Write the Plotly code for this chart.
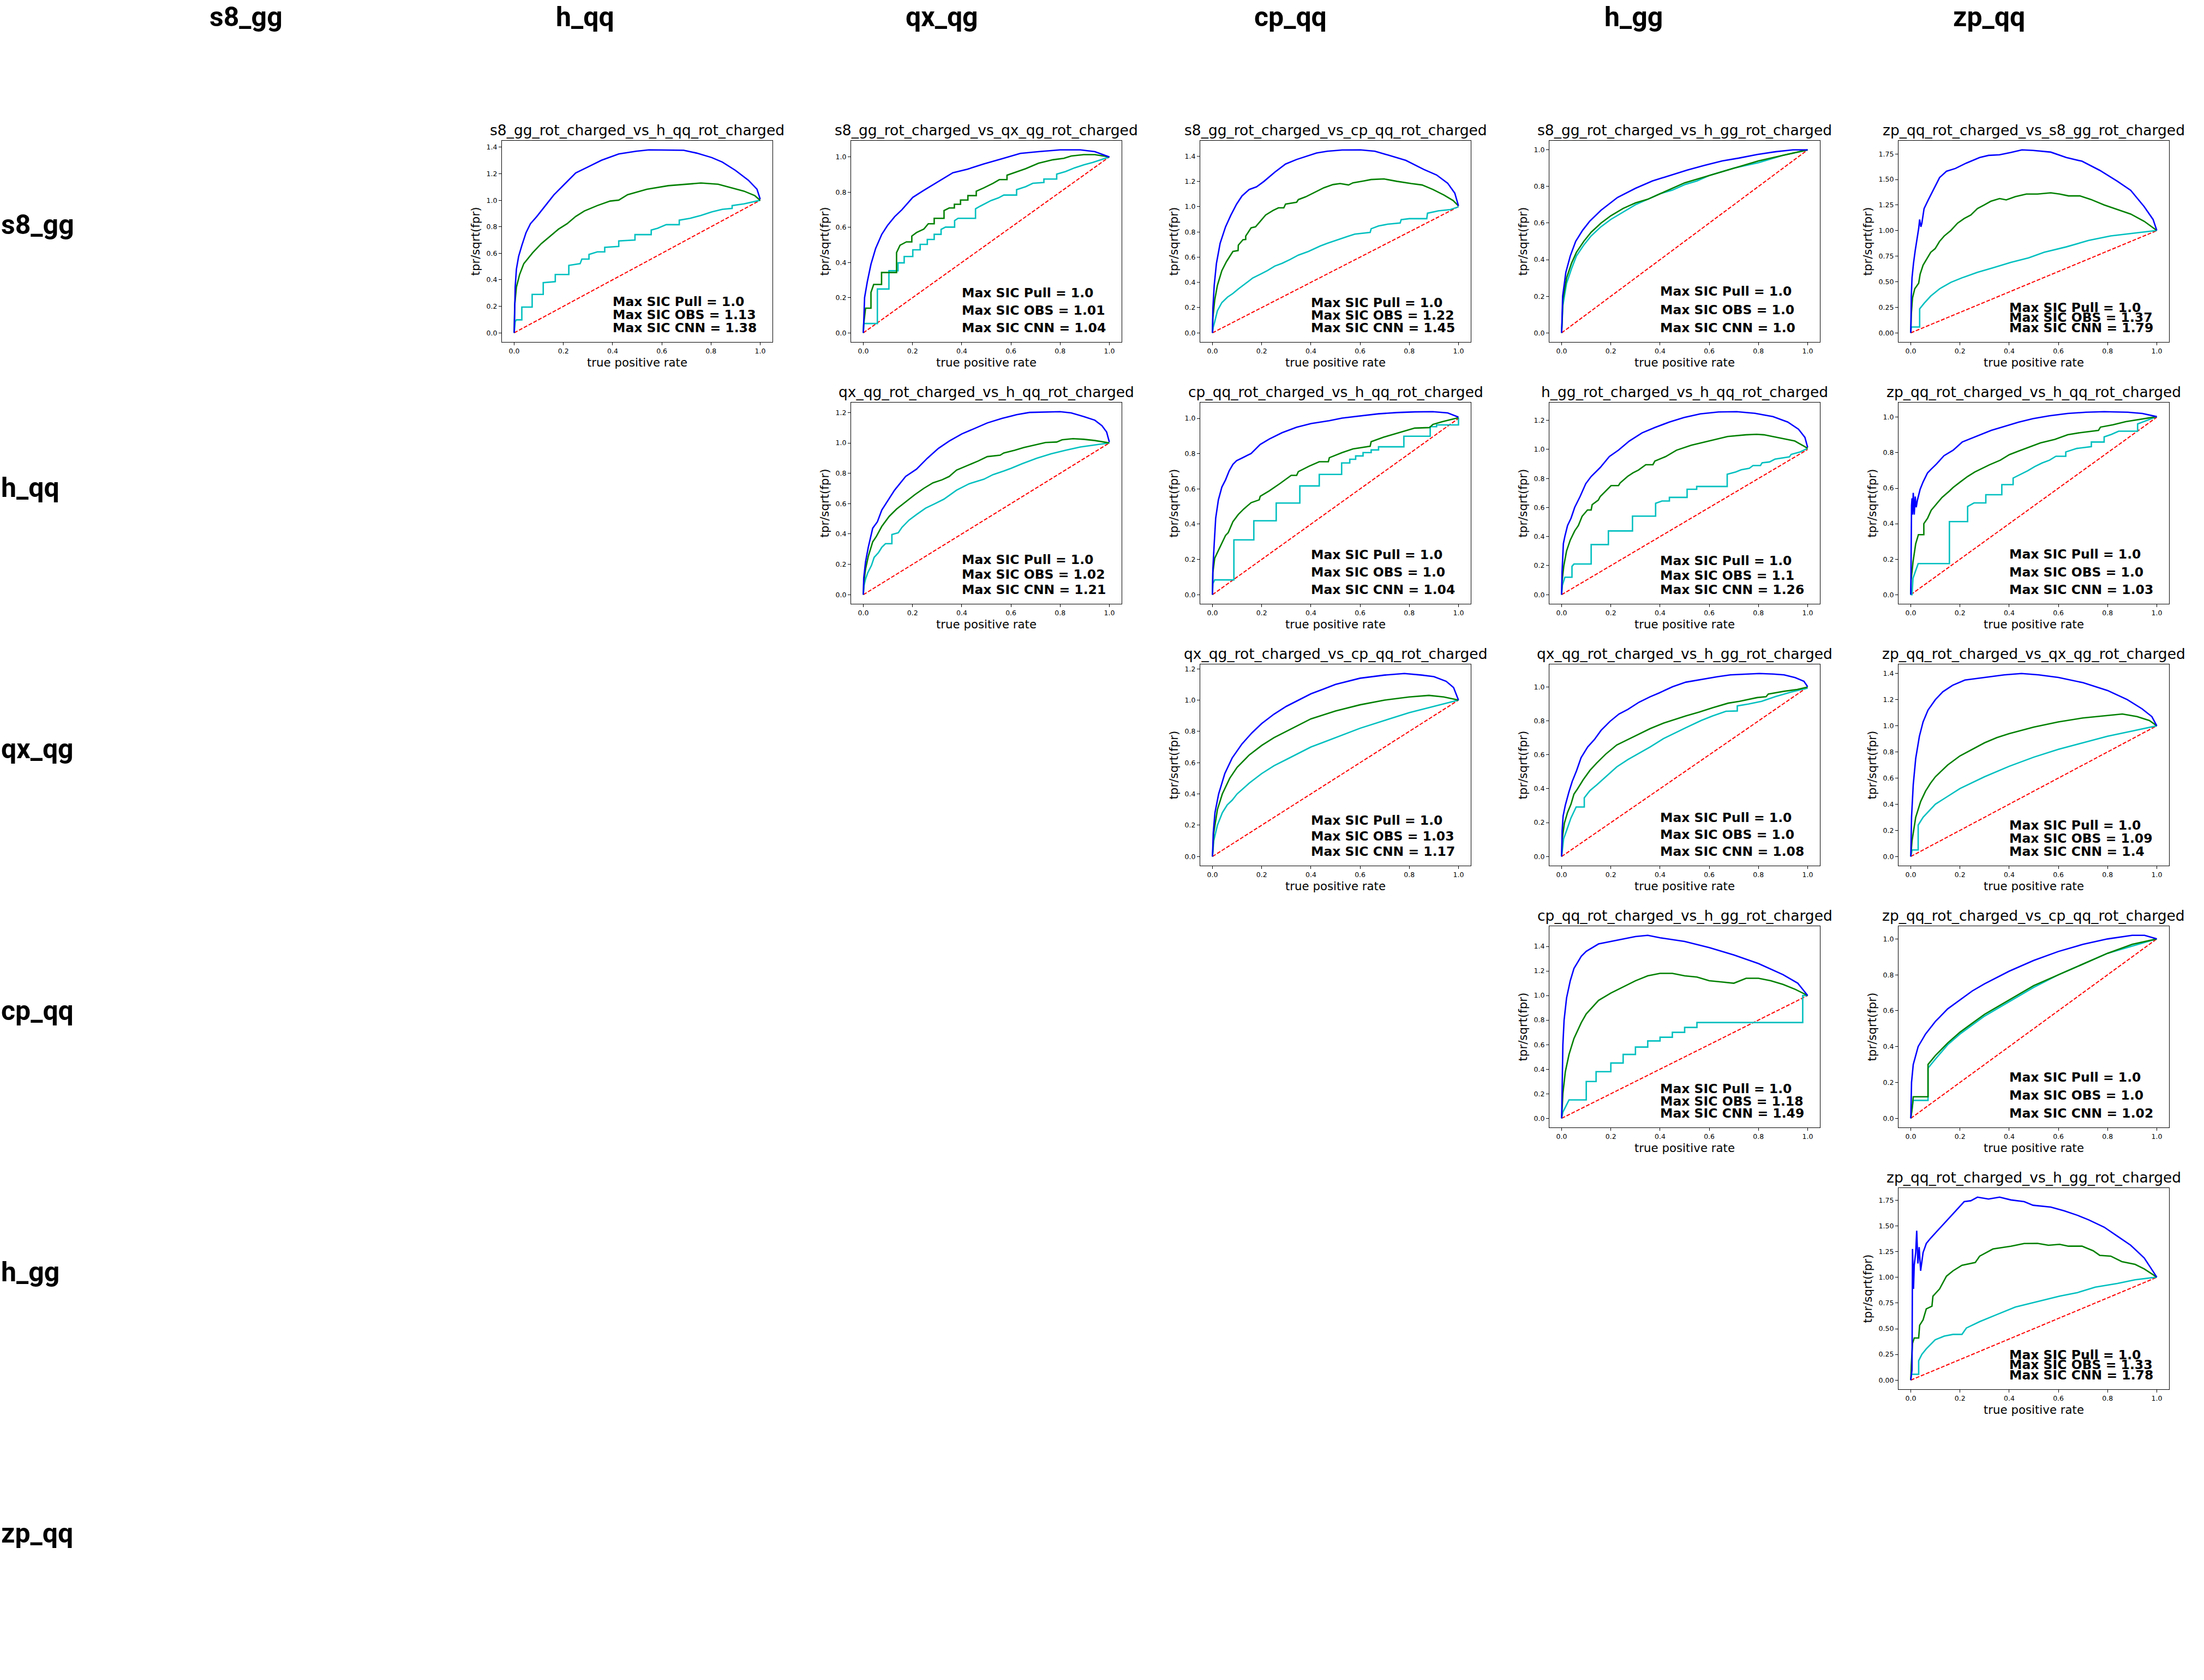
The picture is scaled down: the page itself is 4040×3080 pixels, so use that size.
import plotly.graph_objects as go

W, H = 4040, 3080

# ---------------- data ----------------
NAMES = ["s8_gg", "h_qq", "qx_qg", "cp_qq", "h_gg", "zp_qq"]
XTICKS = [0.0, 0.2, 0.4, 0.6, 0.8, 1.0]

# each curve: list of (true positive rate, tpr/sqrt(fpr)) points
S8_HQQ_CNN = [(0,0),(0.002,0.139),(0.004,0.345),(0.009,0.481),(0.018,0.577),(0.031,0.659),(0.048,0.755),(0.066,0.823),(0.092,0.878),(0.127,0.96),(0.162,1.042),(0.206,1.124),(0.25,1.206),(0.303,1.254),(0.355,1.302),(0.425,1.349),(0.496,1.37),(0.548,1.38),(0.627,1.377),(0.689,1.377),(0.741,1.356),(0.803,1.322),(0.846,1.288),(0.899,1.226),(0.952,1.151),(0.987,1.083),(1.0,1.008)]
S8_HQQ_OBS = [(0,0),(0.002,0.208),(0.009,0.345),(0.022,0.44),(0.039,0.522),(0.075,0.604),(0.11,0.673),(0.145,0.727),(0.18,0.782),(0.215,0.823),(0.25,0.878),(0.285,0.919),(0.338,0.96),(0.39,0.994),(0.425,1.001),(0.461,1.042),(0.539,1.083),(0.627,1.11),(0.715,1.124),(0.759,1.13),(0.829,1.121),(0.882,1.096),(0.934,1.069),(0.978,1.035),(1.0,1.0)]
S8_HQQ_PULL = [(0,0),(0.004,0.085),(0.009,0.098),(0.031,0.098),(0.031,0.194),(0.073,0.194),(0.073,0.29),(0.118,0.29),(0.118,0.379),(0.167,0.386),(0.167,0.44),(0.222,0.44),(0.222,0.509),(0.268,0.522),(0.275,0.556),(0.304,0.556),(0.304,0.591),(0.338,0.611),(0.368,0.611),(0.368,0.645),(0.425,0.652),(0.425,0.693),(0.491,0.7),(0.491,0.741),(0.557,0.741),(0.557,0.775),(0.583,0.789),(0.618,0.816),(0.671,0.816),(0.671,0.85),(0.715,0.864),(0.759,0.885),(0.803,0.912),(0.846,0.932),(0.886,0.939),(0.886,0.96),(0.934,0.973),(1.0,1.0)]

S8_QX_CNN = [(0,0),(0.002,0.12),(0.005,0.2),(0.016,0.29),(0.031,0.39),(0.05,0.48),(0.075,0.56),(0.098,0.61),(0.127,0.66),(0.157,0.70),(0.201,0.77),(0.246,0.81),(0.305,0.86),(0.364,0.91),(0.423,0.93),(0.49,0.96),(0.564,0.99),(0.638,1.02),(0.712,1.03),(0.8,1.04),(0.882,1.04),(0.941,1.03),(1.0,1.0)]
S8_QX_OBS = [(0,0),(0.0015,0.05),(0.009,0.14),(0.031,0.14),(0.031,0.23),(0.042,0.275),(0.074,0.275),(0.074,0.343),(0.135,0.343),(0.135,0.456),(0.149,0.498),(0.175,0.517),(0.197,0.517),(0.197,0.55),(0.216,0.57),(0.246,0.59),(0.264,0.62),(0.288,0.62),(0.288,0.651),(0.328,0.651),(0.328,0.695),(0.349,0.71),(0.37,0.71),(0.37,0.731),(0.395,0.731),(0.395,0.755),(0.425,0.755),(0.425,0.78),(0.459,0.78),(0.459,0.805),(0.49,0.824),(0.527,0.85),(0.553,0.871),(0.584,0.871),(0.584,0.896),(0.615,0.912),(0.66,0.933),(0.712,0.964),(0.771,0.984),(0.815,0.992),(0.845,1.005),(0.896,1.013),(0.941,1.013),(1.0,1.0)]
S8_QX_PULL = [(0,0),(0.0015,0.053),(0.057,0.053),(0.057,0.249),(0.104,0.249),(0.104,0.353),(0.141,0.353),(0.141,0.398),(0.166,0.398),(0.166,0.434),(0.201,0.434),(0.201,0.472),(0.231,0.472),(0.231,0.503),(0.26,0.503),(0.26,0.531),(0.288,0.531),(0.288,0.56),(0.316,0.56),(0.316,0.588),(0.334,0.601),(0.371,0.601),(0.371,0.638),(0.385,0.651),(0.456,0.651),(0.456,0.705),(0.475,0.72),(0.497,0.736),(0.519,0.752),(0.549,0.767),(0.571,0.783),(0.623,0.783),(0.623,0.814),(0.66,0.831),(0.689,0.85),(0.734,0.855),(0.734,0.874),(0.786,0.874),(0.786,0.902),(0.822,0.917),(0.859,0.938),(0.896,0.955),(0.933,0.969),(1.0,1.0)]

S8_CP_CNN = [(0,0),(0.0015,0.19),(0.007,0.377),(0.016,0.55),(0.031,0.71),(0.053,0.84),(0.075,0.934),(0.098,1.02),(0.12,1.085),(0.149,1.136),(0.179,1.157),(0.209,1.2),(0.253,1.273),(0.297,1.338),(0.342,1.374),(0.379,1.396),(0.423,1.425),(0.467,1.439),(0.527,1.449),(0.601,1.45),(0.66,1.439),(0.712,1.41),(0.786,1.367),(0.859,1.295),(0.911,1.251),(0.956,1.186),(0.985,1.107),(1.0,1.006)]
S8_CP_OBS = [(0,0),(0.0015,0.117),(0.009,0.26),(0.02,0.377),(0.038,0.493),(0.057,0.565),(0.083,0.645),(0.104,0.652),(0.105,0.695),(0.124,0.738),(0.135,0.74),(0.135,0.767),(0.157,0.832),(0.175,0.84),(0.194,0.883),(0.216,0.934),(0.246,0.97),(0.268,0.991),(0.29,0.991),(0.297,1.02),(0.342,1.035),(0.349,1.056),(0.379,1.078),(0.416,1.114),(0.453,1.15),(0.49,1.175),(0.519,1.183),(0.553,1.172),(0.571,1.189),(0.615,1.204),(0.645,1.215),(0.697,1.22),(0.749,1.201),(0.808,1.183),(0.852,1.172),(0.896,1.136),(0.941,1.092),(0.978,1.049),(1.0,1.006)]
S8_CP_PULL = [(0,0),(0.003,0.045),(0.009,0.088),(0.02,0.175),(0.038,0.24),(0.061,0.283),(0.083,0.312),(0.105,0.348),(0.135,0.392),(0.164,0.435),(0.194,0.464),(0.223,0.493),(0.253,0.529),(0.283,0.551),(0.316,0.582),(0.349,0.616),(0.39,0.645),(0.438,0.688),(0.467,0.71),(0.508,0.738),(0.549,0.764),(0.578,0.782),(0.641,0.796),(0.645,0.825),(0.675,0.847),(0.712,0.861),(0.763,0.871),(0.767,0.897),(0.8,0.905),(0.871,0.905),(0.874,0.948),(0.919,0.967),(0.967,0.977),(1.0,0.999)]

S8_HGG_CNN = [(0,0),(0.004,0.2),(0.017,0.33),(0.035,0.42),(0.057,0.5),(0.085,0.56),(0.114,0.61),(0.16,0.67),(0.227,0.74),(0.3,0.79),(0.369,0.83),(0.44,0.86),(0.511,0.89),(0.58,0.915),(0.653,0.94),(0.72,0.955),(0.795,0.975),(0.87,0.99),(0.94,1.0),(1.0,1.0)]
S8_HGG_OBS = [(0,0),(0.005,0.18),(0.02,0.3),(0.04,0.38),(0.06,0.44),(0.09,0.5),(0.12,0.55),(0.16,0.6),(0.2,0.64),(0.25,0.68),(0.3,0.71),(0.35,0.73),(0.4,0.76),(0.45,0.79),(0.5,0.82),(0.55,0.84),(0.6,0.86),(0.7,0.9),(0.8,0.94),(0.9,0.97),(1.0,1.0)]
S8_HGG_PULL = [(0,0),(0.005,0.15),(0.02,0.27),(0.04,0.35),(0.06,0.42),(0.09,0.48),(0.12,0.53),(0.16,0.58),(0.2,0.62),(0.25,0.66),(0.3,0.7),(0.35,0.73),(0.4,0.76),(0.45,0.78),(0.5,0.81),(0.55,0.83),(0.6,0.86),(0.7,0.9),(0.8,0.93),(0.9,0.97),(1.0,1.0)]

ZP_S8_CNN = [(0,0),(0.002,0.36),(0.005,0.538),(0.011,0.681),(0.018,0.806),(0.025,0.913),(0.032,1.02),(0.036,1.109),(0.041,1.037),(0.045,1.073),(0.054,1.216),(0.072,1.305),(0.09,1.394),(0.117,1.519),(0.145,1.581),(0.181,1.608),(0.226,1.661),(0.28,1.715),(0.316,1.736),(0.361,1.742),(0.407,1.765),(0.452,1.79),(0.497,1.785),(0.569,1.768),(0.632,1.715),(0.696,1.679),(0.768,1.59),(0.84,1.483),(0.894,1.394),(0.949,1.234),(0.985,1.109),(1.0,1.002)]
ZP_S8_OBS = [(0,0),(0.002,0.182),(0.007,0.342),(0.016,0.431),(0.032,0.485),(0.038,0.574),(0.05,0.663),(0.063,0.717),(0.081,0.788),(0.099,0.824),(0.117,0.895),(0.136,0.948),(0.163,1.002),(0.19,1.073),(0.217,1.118),(0.244,1.153),(0.271,1.216),(0.298,1.251),(0.325,1.287),(0.361,1.314),(0.388,1.301),(0.425,1.332),(0.47,1.358),(0.515,1.358),(0.569,1.37),(0.605,1.358),(0.641,1.34),(0.687,1.34),(0.732,1.305),(0.786,1.251),(0.84,1.207),(0.894,1.162),(0.949,1.091),(1.0,1.002)]
ZP_S8_PULL = [(0,0),(0.002,0.057),(0.036,0.057),(0.036,0.235),(0.054,0.289),(0.081,0.36),(0.117,0.431),(0.163,0.494),(0.208,0.538),(0.271,0.592),(0.334,0.636),(0.407,0.69),(0.479,0.734),(0.542,0.788),(0.632,0.841),(0.723,0.904),(0.813,0.948),(0.903,0.975),(1.0,1.002)]

QX_HQQ_CNN = [(0,0),(0.0015,0.109),(0.009,0.217),(0.02,0.312),(0.038,0.438),(0.057,0.48),(0.075,0.558),(0.098,0.617),(0.127,0.689),(0.172,0.779),(0.216,0.827),(0.26,0.899),(0.305,0.964),(0.349,1.012),(0.401,1.06),(0.453,1.096),(0.504,1.132),(0.564,1.162),(0.623,1.186),(0.675,1.201),(0.734,1.204),(0.8,1.206),(0.845,1.198),(0.896,1.174),(0.941,1.15),(0.97,1.114),(0.989,1.072),(1.0,1.006)]
QX_HQQ_OBS = [(0,0),(0.0015,0.073),(0.009,0.169),(0.02,0.252),(0.038,0.348),(0.053,0.384),(0.075,0.45),(0.105,0.516),(0.135,0.564),(0.172,0.611),(0.209,0.659),(0.246,0.701),(0.283,0.737),(0.32,0.757),(0.349,0.779),(0.379,0.821),(0.423,0.851),(0.467,0.881),(0.504,0.91),(0.556,0.919),(0.571,0.934),(0.615,0.952),(0.652,0.97),(0.697,0.988),(0.741,1.003),(0.786,1.006),(0.808,1.021),(0.852,1.028),(0.896,1.024),(0.941,1.016),(1.0,1.0)]
QX_HQQ_PULL = [(0,0),(0.003,0.061),(0.009,0.103),(0.018,0.145),(0.033,0.193),(0.044,0.246),(0.061,0.276),(0.075,0.312),(0.09,0.336),(0.116,0.336),(0.116,0.396),(0.142,0.408),(0.157,0.444),(0.186,0.492),(0.216,0.528),(0.253,0.57),(0.29,0.599),(0.327,0.629),(0.379,0.689),(0.43,0.731),(0.49,0.761),(0.527,0.791),(0.571,0.815),(0.601,0.833),(0.645,0.863),(0.704,0.899),(0.763,0.928),(0.822,0.952),(0.882,0.973),(0.933,0.985),(1.0,1.0)]

CP_HQQ_CNN = [(0,0),(0.0015,0.146),(0.007,0.29),(0.013,0.434),(0.024,0.538),(0.038,0.61),(0.053,0.651),(0.068,0.703),(0.083,0.739),(0.098,0.76),(0.12,0.775),(0.157,0.801),(0.194,0.852),(0.231,0.883),(0.283,0.919),(0.342,0.95),(0.401,0.971),(0.475,0.987),(0.527,1.002),(0.601,1.015),(0.675,1.026),(0.749,1.033),(0.822,1.037),(0.896,1.038),(0.956,1.031),(1.0,1.007)]
CP_HQQ_OBS = [(0,0),(0.0015,0.125),(0.009,0.207),(0.02,0.238),(0.038,0.29),(0.053,0.336),(0.064,0.352),(0.083,0.414),(0.105,0.455),(0.127,0.486),(0.157,0.522),(0.19,0.538),(0.194,0.558),(0.231,0.589),(0.275,0.631),(0.32,0.677),(0.342,0.677),(0.349,0.698),(0.393,0.729),(0.434,0.754),(0.471,0.754),(0.475,0.777),(0.527,0.806),(0.571,0.827),(0.641,0.842),(0.645,0.868),(0.697,0.894),(0.734,0.909),(0.786,0.93),(0.822,0.945),(0.882,0.948),(0.896,0.966),(0.933,0.981),(0.97,0.994),(1.0,1.004)]
CP_HQQ_PULL = [(0,0),(0.0015,0.063),(0.009,0.084),(0.087,0.084),(0.087,0.311),(0.168,0.311),(0.168,0.419),(0.259,0.419),(0.259,0.52),(0.355,0.52),(0.355,0.617),(0.434,0.617),(0.434,0.682),(0.525,0.682),(0.525,0.747),(0.558,0.747),(0.558,0.768),(0.582,0.768),(0.582,0.787),(0.612,0.787),(0.612,0.806),(0.645,0.806),(0.645,0.821),(0.675,0.821),(0.675,0.839),(0.778,0.839),(0.778,0.899),(0.885,0.899),(0.885,0.953),(0.911,0.953),(0.911,0.963),(1.0,0.963),(1.0,1.004)]

HGG_HQQ_CNN = [(0,0),(0.0015,0.151),(0.007,0.351),(0.013,0.401),(0.024,0.476),(0.038,0.526),(0.053,0.601),(0.075,0.676),(0.098,0.764),(0.12,0.814),(0.157,0.876),(0.194,0.951),(0.231,0.995),(0.275,1.058),(0.327,1.114),(0.379,1.151),(0.438,1.189),(0.497,1.22),(0.564,1.245),(0.638,1.258),(0.712,1.26),(0.786,1.249),(0.859,1.226),(0.919,1.189),(0.963,1.139),(0.989,1.083),(1.0,1.014)]
HGG_HQQ_OBS = [(0,0),(0.0015,0.089),(0.009,0.201),(0.02,0.301),(0.035,0.376),(0.053,0.439),(0.068,0.476),(0.083,0.539),(0.105,0.583),(0.12,0.583),(0.124,0.62),(0.149,0.651),(0.157,0.676),(0.179,0.714),(0.201,0.751),(0.231,0.751),(0.238,0.77),(0.268,0.814),(0.29,0.839),(0.312,0.858),(0.342,0.895),(0.371,0.895),(0.379,0.92),(0.423,0.951),(0.467,0.995),(0.527,1.029),(0.601,1.058),(0.675,1.089),(0.749,1.101),(0.793,1.104),(0.822,1.101),(0.896,1.076),(0.948,1.058),(1.0,1.008)]
HGG_HQQ_PULL = [(0,0),(0.003,0.064),(0.013,0.12),(0.042,0.12),(0.042,0.195),(0.05,0.211),(0.12,0.211),(0.12,0.345),(0.19,0.345),(0.19,0.439),(0.288,0.439),(0.288,0.541),(0.382,0.541),(0.382,0.629),(0.408,0.645),(0.438,0.645),(0.438,0.67),(0.51,0.67),(0.51,0.726),(0.549,0.726),(0.549,0.745),(0.673,0.745),(0.673,0.829),(0.708,0.845),(0.73,0.86),(0.763,0.87),(0.778,0.889),(0.808,0.889),(0.815,0.908),(0.845,0.914),(0.867,0.933),(0.926,0.949),(0.933,0.966),(0.97,0.983),(1.0,1.008)]

ZP_HQQ_CNN = [(0,0),(0.0015,0.349),(0.003,0.502),(0.005,0.543),(0.007,0.451),(0.01,0.574),(0.014,0.451),(0.018,0.553),(0.022,0.492),(0.027,0.533),(0.038,0.594),(0.05,0.635),(0.068,0.686),(0.083,0.707),(0.105,0.737),(0.135,0.783),(0.172,0.814),(0.209,0.86),(0.231,0.872),(0.275,0.896),(0.327,0.926),(0.379,0.947),(0.438,0.972),(0.497,0.992),(0.564,1.008),(0.638,1.021),(0.712,1.028),(0.786,1.031),(0.882,1.028),(0.941,1.021),(1.0,1.003)]
ZP_HQQ_OBS = [(0,0),(0.0015,0.083),(0.009,0.185),(0.02,0.287),(0.031,0.338),(0.053,0.338),(0.053,0.4),(0.068,0.43),(0.083,0.476),(0.105,0.512),(0.127,0.548),(0.157,0.584),(0.172,0.604),(0.201,0.635),(0.231,0.666),(0.26,0.691),(0.29,0.712),(0.32,0.732),(0.364,0.758),(0.401,0.789),(0.438,0.809),(0.475,0.829),(0.527,0.855),(0.586,0.875),(0.638,0.901),(0.689,0.913),(0.763,0.926),(0.771,0.944),(0.822,0.957),(0.874,0.975),(0.933,0.988),(1.0,1.003)]
ZP_HQQ_PULL = [(0,0),(0.005,0.0),(0.009,0.093),(0.02,0.134),(0.03,0.175),(0.157,0.175),(0.157,0.412),(0.231,0.412),(0.231,0.497),(0.257,0.517),(0.305,0.517),(0.305,0.563),(0.37,0.563),(0.37,0.62),(0.416,0.62),(0.416,0.657),(0.442,0.676),(0.475,0.698),(0.504,0.722),(0.534,0.742),(0.564,0.758),(0.59,0.78),(0.63,0.78),(0.63,0.804),(0.675,0.824),(0.734,0.834),(0.734,0.86),(0.786,0.86),(0.786,0.889),(0.815,0.903),(0.845,0.921),(0.922,0.921),(0.922,0.962),(0.967,0.985),(1.0,1.003)]

QX_CP_CNN = [(0,0),(0.003,0.15),(0.01,0.28),(0.025,0.4),(0.05,0.53),(0.08,0.63),(0.12,0.72),(0.16,0.79),(0.2,0.85),(0.25,0.91),(0.3,0.96),(0.35,1.0),(0.4,1.04),(0.45,1.07),(0.5,1.1),(0.6,1.14),(0.7,1.16),(0.78,1.17),(0.85,1.16),(0.9,1.15),(0.95,1.12),(0.98,1.08),(1.0,1.0)]
QX_CP_OBS = [(0,0),(0.005,0.15),(0.02,0.3),(0.04,0.4),(0.07,0.5),(0.1,0.57),(0.15,0.65),(0.2,0.71),(0.25,0.76),(0.3,0.8),(0.35,0.84),(0.4,0.88),(0.5,0.93),(0.6,0.97),(0.7,1.0),(0.8,1.02),(0.88,1.03),(0.94,1.02),(1.0,1.0)]
QX_CP_PULL = [(0,0),(0.005,0.1),(0.02,0.2),(0.04,0.28),(0.06,0.33),(0.08,0.36),(0.1,0.4),(0.15,0.47),(0.2,0.53),(0.25,0.58),(0.3,0.62),(0.35,0.66),(0.4,0.7),(0.45,0.73),(0.5,0.76),(0.6,0.82),(0.7,0.87),(0.8,0.92),(0.9,0.96),(1.0,1.0)]

QX_HGG_CNN = [(0,0),(0.002,0.153),(0.006,0.239),(0.015,0.303),(0.029,0.378),(0.043,0.443),(0.061,0.508),(0.079,0.583),(0.106,0.647),(0.133,0.69),(0.16,0.744),(0.197,0.798),(0.233,0.841),(0.269,0.868),(0.315,0.911),(0.36,0.943),(0.396,0.965),(0.451,1.002),(0.505,1.029),(0.568,1.045),(0.632,1.061),(0.686,1.072),(0.75,1.077),(0.804,1.08),(0.859,1.077),(0.904,1.072),(0.949,1.056),(0.985,1.034),(1.0,1.002)]
QX_HGG_OBS = [(0,0),(0.002,0.099),(0.011,0.196),(0.024,0.26),(0.038,0.309),(0.05,0.368),(0.065,0.4),(0.088,0.454),(0.115,0.508),(0.142,0.551),(0.179,0.604),(0.224,0.658),(0.269,0.69),(0.315,0.723),(0.36,0.755),(0.414,0.787),(0.469,0.814),(0.505,0.83),(0.559,0.852),(0.614,0.878),(0.677,0.905),(0.723,0.916),(0.795,0.938),(0.831,0.943),(0.84,0.959),(0.904,0.975),(0.958,0.986),(1.0,1.0)]
QX_HGG_PULL = [(0,0),(0.003,0.045),(0.008,0.104),(0.02,0.153),(0.038,0.228),(0.059,0.292),(0.092,0.292),(0.092,0.346),(0.115,0.389),(0.142,0.422),(0.179,0.47),(0.224,0.529),(0.269,0.572),(0.315,0.61),(0.36,0.647),(0.414,0.696),(0.451,0.723),(0.505,0.76),(0.568,0.803),(0.614,0.83),(0.668,0.857),(0.714,0.859),(0.714,0.889),(0.759,0.9),(0.813,0.916),(0.868,0.943),(0.931,0.97),(1.0,0.994)]

ZP_QX_CNN = [(0,0),(0.003,0.3),(0.01,0.55),(0.02,0.75),(0.035,0.92),(0.05,1.03),(0.07,1.12),(0.1,1.2),(0.13,1.26),(0.17,1.31),(0.22,1.35),(0.3,1.37),(0.38,1.39),(0.45,1.4),(0.52,1.39),(0.6,1.37),(0.7,1.33),(0.8,1.27),(0.88,1.2),(0.94,1.13),(0.98,1.07),(1.0,1.0)]
ZP_QX_OBS = [(0,0),(0.005,0.12),(0.02,0.3),(0.04,0.42),(0.06,0.5),(0.08,0.56),(0.1,0.61),(0.15,0.7),(0.2,0.77),(0.25,0.82),(0.3,0.87),(0.35,0.91),(0.4,0.94),(0.5,0.99),(0.6,1.03),(0.7,1.06),(0.8,1.08),(0.86,1.09),(0.92,1.07),(0.97,1.04),(1.0,1.0)]
ZP_QX_PULL = [(0,0),(0.005,0.05),(0.03,0.05),(0.03,0.24),(0.05,0.3),(0.08,0.36),(0.1,0.4),(0.15,0.46),(0.2,0.52),(0.3,0.61),(0.4,0.69),(0.5,0.76),(0.6,0.82),(0.7,0.87),(0.8,0.92),(0.9,0.96),(1.0,1.0)]

CP_HGG_CNN = [(0,0),(0.002,0.3),(0.005,0.6),(0.01,0.8),(0.02,0.98),(0.035,1.12),(0.05,1.22),(0.08,1.32),(0.1,1.36),(0.15,1.42),(0.2,1.44),(0.25,1.46),(0.3,1.48),(0.35,1.49),(0.4,1.47),(0.5,1.44),(0.6,1.39),(0.7,1.33),(0.8,1.26),(0.9,1.17),(0.96,1.1),(1.0,1.0)]
CP_HGG_OBS = [(0,0),(0.005,0.2),(0.015,0.38),(0.03,0.52),(0.05,0.65),(0.08,0.78),(0.1,0.85),(0.15,0.96),(0.2,1.02),(0.25,1.07),(0.3,1.12),(0.35,1.16),(0.4,1.18),(0.45,1.18),(0.5,1.16),(0.55,1.15),(0.6,1.12),(0.65,1.11),(0.7,1.1),(0.75,1.14),(0.8,1.14),(0.85,1.12),(0.9,1.09),(0.95,1.05),(1.0,1.0)]
CP_HGG_PULL = [(0,0),(0.005,0.05),(0.03,0.15),(0.1,0.15),(0.1,0.3),(0.14,0.3),(0.14,0.38),(0.2,0.38),(0.2,0.45),(0.25,0.45),(0.25,0.52),(0.3,0.52),(0.3,0.58),(0.35,0.58),(0.35,0.63),(0.4,0.63),(0.4,0.66),(0.45,0.66),(0.45,0.7),(0.5,0.7),(0.5,0.74),(0.55,0.74),(0.55,0.78),(0.98,0.78),(0.98,1.0),(1.0,1.0)]

ZP_CP_CNN = [(0,0),(0.003,0.2),(0.01,0.3),(0.03,0.4),(0.06,0.47),(0.1,0.54),(0.15,0.61),(0.2,0.66),(0.25,0.71),(0.3,0.75),(0.4,0.82),(0.5,0.88),(0.6,0.93),(0.7,0.97),(0.8,1.0),(0.9,1.02),(0.95,1.02),(1.0,1.0)]
ZP_CP_OBS = [(0,0),(0.005,0.05),(0.01,0.12),(0.07,0.12),(0.07,0.3),(0.1,0.35),(0.15,0.42),(0.2,0.48),(0.25,0.53),(0.3,0.58),(0.35,0.62),(0.4,0.66),(0.5,0.74),(0.6,0.8),(0.7,0.86),(0.8,0.92),(0.9,0.97),(1.0,1.0)]
ZP_CP_PULL = [(0,0),(0.005,0.05),(0.01,0.1),(0.07,0.1),(0.07,0.28),(0.1,0.33),(0.15,0.41),(0.2,0.47),(0.25,0.52),(0.3,0.57),(0.35,0.61),(0.4,0.65),(0.5,0.73),(0.6,0.8),(0.7,0.86),(0.8,0.92),(0.9,0.96),(1.0,1.0)]

ZP_HGG_CNN = [(0,0),(0.005,0.1),(0.007,1.276),(0.011,0.887),(0.014,1.117),(0.02,1.241),(0.024,1.453),(0.029,1.135),(0.034,1.294),(0.04,1.064),(0.05,1.241),(0.063,1.329),(0.081,1.382),(0.108,1.453),(0.136,1.524),(0.163,1.594),(0.19,1.665),(0.217,1.736),(0.244,1.745),(0.271,1.78),(0.316,1.762),(0.361,1.78),(0.407,1.753),(0.461,1.736),(0.497,1.701),(0.569,1.683),(0.623,1.648),(0.678,1.603),(0.723,1.559),(0.786,1.488),(0.84,1.4),(0.894,1.312),(0.949,1.188),(1.0,1.002)]
ZP_HGG_OBS = [(0,0),(0.002,0.145),(0.007,0.357),(0.014,0.41),(0.032,0.41),(0.036,0.534),(0.05,0.587),(0.063,0.693),(0.086,0.719),(0.09,0.817),(0.117,0.887),(0.145,1.011),(0.172,1.064),(0.208,1.117),(0.262,1.144),(0.28,1.206),(0.334,1.276),(0.407,1.303),(0.461,1.329),(0.515,1.33),(0.56,1.312),(0.605,1.321),(0.641,1.303),(0.696,1.303),(0.741,1.259),(0.768,1.214),(0.813,1.206),(0.858,1.153),(0.912,1.126),(0.949,1.082),(1.0,1.002)]
ZP_HGG_PULL = [(0,0),(0.002,0.057),(0.032,0.057),(0.032,0.189),(0.045,0.251),(0.063,0.304),(0.099,0.392),(0.136,0.428),(0.172,0.445),(0.208,0.445),(0.226,0.507),(0.28,0.569),(0.352,0.64),(0.425,0.711),(0.515,0.764),(0.605,0.817),(0.678,0.852),(0.75,0.905),(0.84,0.94),(0.912,0.976),(1.0,1.002)]

# Max SIC values printed in each panel: (Pull, OBS, CNN)
SIC = {
    (0, 1): (1.0, 1.13, 1.38), (0, 2): (1.0, 1.01, 1.04), (0, 3): (1.0, 1.22, 1.45),
    (0, 4): (1.0, 1.0, 1.0), (0, 5): (1.0, 1.37, 1.79),
    (1, 2): (1.0, 1.02, 1.21), (1, 3): (1.0, 1.0, 1.04), (1, 4): (1.0, 1.1, 1.26),
    (1, 5): (1.0, 1.0, 1.03),
    (2, 3): (1.0, 1.03, 1.17), (2, 4): (1.0, 1.0, 1.08), (2, 5): (1.0, 1.09, 1.4),
    (3, 4): (1.0, 1.18, 1.49), (3, 5): (1.0, 1.0, 1.02),
    (4, 5): (1.0, 1.33, 1.78),
}
# (row, col, signal, background, pull, obs, cnn, y tick step)
PANELS = [
    (0, 1, "s8_gg", "h_qq", S8_HQQ_PULL, S8_HQQ_OBS, S8_HQQ_CNN, 0.2),
    (0, 2, "s8_gg", "qx_qg", S8_QX_PULL, S8_QX_OBS, S8_QX_CNN, 0.2),
    (0, 3, "s8_gg", "cp_qq", S8_CP_PULL, S8_CP_OBS, S8_CP_CNN, 0.2),
    (0, 4, "s8_gg", "h_gg", S8_HGG_PULL, S8_HGG_OBS, S8_HGG_CNN, 0.2),
    (0, 5, "zp_qq", "s8_gg", ZP_S8_PULL, ZP_S8_OBS, ZP_S8_CNN, 0.25),
    (1, 2, "qx_qg", "h_qq", QX_HQQ_PULL, QX_HQQ_OBS, QX_HQQ_CNN, 0.2),
    (1, 3, "cp_qq", "h_qq", CP_HQQ_PULL, CP_HQQ_OBS, CP_HQQ_CNN, 0.2),
    (1, 4, "h_gg", "h_qq", HGG_HQQ_PULL, HGG_HQQ_OBS, HGG_HQQ_CNN, 0.2),
    (1, 5, "zp_qq", "h_qq", ZP_HQQ_PULL, ZP_HQQ_OBS, ZP_HQQ_CNN, 0.2),
    (2, 3, "qx_qg", "cp_qq", QX_CP_PULL, QX_CP_OBS, QX_CP_CNN, 0.2),
    (2, 4, "qx_qg", "h_gg", QX_HGG_PULL, QX_HGG_OBS, QX_HGG_CNN, 0.2),
    (2, 5, "zp_qq", "qx_qg", ZP_QX_PULL, ZP_QX_OBS, ZP_QX_CNN, 0.2),
    (3, 4, "cp_qq", "h_gg", CP_HGG_PULL, CP_HGG_OBS, CP_HGG_CNN, 0.2),
    (3, 5, "zp_qq", "cp_qq", ZP_CP_PULL, ZP_CP_OBS, ZP_CP_CNN, 0.2),
    (4, 5, "zp_qq", "h_gg", ZP_HGG_PULL, ZP_HGG_OBS, ZP_HGG_CNN, 0.25),
]

# ---------------- layout constants (pixels) ----------------
FRAME_W, FRAME_H = 496, 369
COL_LEFT0, COL_PITCH = 280, 640
ROW_TOP0, ROW_PITCH = 258, 480
HEADER_X = [451, 1072, 1726, 2365, 2994, 3646]
ROWLABEL_Y = [412, 894, 1373, 1853, 2332, 2811]

FONT = "DejaVu Sans"
C_PULL, C_OBS, C_CNN, C_DIAG = "#00bfbf", "#008000", "#0000ff", "#ff0000"

fig = go.Figure()
annotations = []

for i, (r, c, sig, bkg, pull, obs, cnn, ystep) in enumerate(PANELS):
    n = i + 1
    sfx = "" if n == 1 else str(n)
    xref, yref = "x" + sfx, "y" + sfx
    L = COL_LEFT0 + COL_PITCH * c
    T = ROW_TOP0 + ROW_PITCH * r
    xd = [L / W, (L + FRAME_W) / W]
    yd = [1 - (T + FRAME_H) / H, 1 - T / H]

    ymax = max(1.0, max(p[1] for cur in (pull, obs, cnn) for p in cur))
    pad = 0.05 * ymax

    fig.add_trace(go.Scatter(x=[0, 1], y=[0, 1], mode="lines",
                             line=dict(color=C_DIAG, width=2, dash="7px,3px"),
                             xaxis=xref, yaxis=yref, hoverinfo="skip"))
    for cur, col in ((pull, C_PULL), (obs, C_OBS), (cnn, C_CNN)):
        fig.add_trace(go.Scatter(x=[p[0] for p in cur], y=[p[1] for p in cur],
                                 mode="lines", line=dict(color=col, width=2.6),
                                 xaxis=xref, yaxis=yref, hoverinfo="skip"))

    common = dict(showline=True, linecolor="black", linewidth=1.2, mirror=True,
                  ticks="outside", ticklen=5, tickwidth=1.2, tickcolor="black",
                  showgrid=False, zeroline=False, automargin=False,
                  tickfont=dict(family=FONT, size=12.5, color="black"))
    fig.update_layout(**{
        "xaxis" + sfx: dict(domain=xd, anchor=yref, range=[-0.05, 1.05],
                            tickmode="array", tickvals=XTICKS,
                            ticktext=[f"{v:.1f}" for v in XTICKS],
                            title=dict(text="true positive rate", standoff=6,
                                       font=dict(family=FONT, size=21.3, color="black")),
                            **common),
        "yaxis" + sfx: dict(domain=yd, anchor=xref, range=[-pad, ymax + pad],
                            tick0=0, dtick=ystep,
                            tickformat=".2f" if ystep == 0.25 else ".1f",
                            title=dict(text="tpr/sqrt(fpr)", standoff=6,
                                       font=dict(family=FONT, size=21.3, color="black")),
                            **common),
    })

    # panel title
    annotations.append(dict(text=f"{sig}_rot_charged_vs_{bkg}_rot_charged",
                            x=(xd[0] + xd[1]) / 2, y=yd[1], xref="paper", yref="paper",
                            xanchor="center", yanchor="bottom", yshift=2, showarrow=False,
                            font=dict(family=FONT, size=26.5, color="black")))
    # SIC texts
    vals = SIC[(r, c)]
    for lab, v, yy in zip(("Pull", "OBS", "CNN"), vals, (0.2, 0.1, 0.0)):
        annotations.append(dict(text=f"<b>Max SIC {lab} = {v}</b>", x=0.4, y=yy,
                                xref=xref, yref=yref, xanchor="left", yanchor="bottom",
                                xshift=-2, yshift=-7, showarrow=False,
                                font=dict(family=FONT, size=23.5, color="black")))

for k, name in enumerate(NAMES):
    annotations.append(dict(text=f"<b>{name}</b>", x=HEADER_X[k] / W, y=1,
                            xref="paper", yref="paper", xanchor="center", yanchor="top",
                            showarrow=False, font=dict(family="Roboto", size=50, color="black")))
    annotations.append(dict(text=f"<b>{name}</b>", x=0, y=1 - ROWLABEL_Y[k] / H,
                            xref="paper", yref="paper", xanchor="left", yanchor="middle",
                            showarrow=False,
                            font=dict(family="Roboto", size=50, color="black")))

fig.update_layout(width=W, height=H, margin=dict(l=0, r=0, t=0, b=0),
                  paper_bgcolor="white", plot_bgcolor="white", showlegend=False,
                  annotations=annotations)
fig.write_html("out.html", config={"displayModeBar": False},
               post_script="document.body.style.margin='0px';")
